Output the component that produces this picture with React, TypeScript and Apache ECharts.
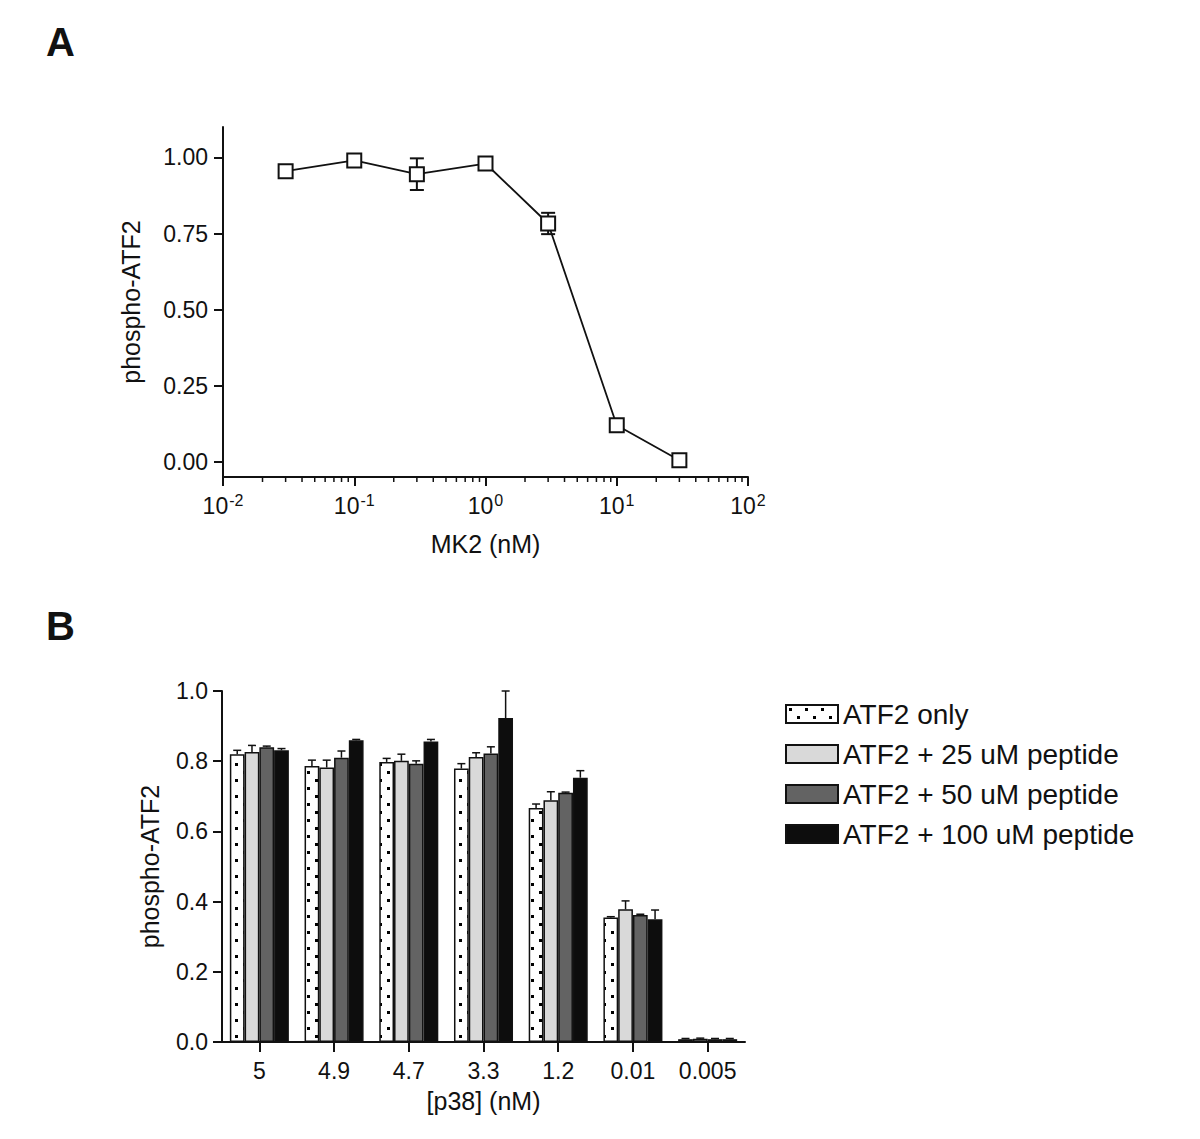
import React, { useEffect, useRef } from 'react';
import * as echarts from 'echarts';

const FONT = '"Liberation Sans", Arial, Helvetica, sans-serif';
const INK = '#111111';

// ---------- Panel A data ----------
const mk2Conc = [0.03, 0.1, 0.3, 1, 3, 10, 30];
const mk2Mean = [0.955, 0.99, 0.945, 0.98, 0.783, 0.12, 0.005];
const mk2Low = [0.935, 0.984, 0.893, 0.974, 0.748, 0.114, 0.0];
const mk2High = [0.962, 0.996, 0.997, 0.986, 0.818, 0.126, 0.01];
const yTicksA = [0, 0.25, 0.5, 0.75, 1];
const logMinorTicks = [
  0.02, 0.03, 0.04, 0.05, 0.06, 0.07, 0.08, 0.09,
  0.2, 0.3, 0.4, 0.5, 0.6, 0.7, 0.8, 0.9,
  2, 3, 4, 5, 6, 7, 8, 9,
  20, 30, 40, 50, 60, 70, 80, 90,
];
const yMinA = -0.05;
const yMaxA = 1.1;

// ---------- Panel B data ----------
const p38Categories = ['5', '4.9', '4.7', '3.3', '1.2', '0.01', '0.005'];
const seriesNames = [
  'ATF2 only',
  'ATF2 + 25 uM peptide',
  'ATF2 + 50 uM peptide',
  'ATF2 + 100 uM peptide',
];
const atf2Only = [0.82, 0.786, 0.798, 0.779, 0.667, 0.355, 0.008];
const atf2OnlyHigh = [0.831, 0.803, 0.808, 0.793, 0.678, 0.357, 0.01];
const pep25 = [0.826, 0.782, 0.801, 0.812, 0.689, 0.378, 0.009];
const pep25High = [0.845, 0.803, 0.82, 0.824, 0.713, 0.402, 0.011];
const pep50 = [0.84, 0.81, 0.793, 0.822, 0.71, 0.362, 0.008];
const pep50High = [0.843, 0.829, 0.801, 0.841, 0.712, 0.364, 0.01];
const pep100 = [0.831, 0.86, 0.856, 0.923, 0.753, 0.35, 0.008];
const pep100High = [0.836, 0.862, 0.862, 1.0, 0.773, 0.376, 0.01];

const barMeans = [atf2Only, pep25, pep50, pep100];
const barHighs = [atf2OnlyHigh, pep25High, pep50High, pep100High];
const barColors = ['dots', '#d9d9d9', '#636363', '#0d0d0d'];
const CAT_GAP = 0.21;

function makeDotPattern(): HTMLCanvasElement {
  const c = document.createElement('canvas');
  c.width = 16;
  c.height = 16;
  const ctx = c.getContext('2d')!;
  ctx.fillStyle = '#ffffff';
  ctx.fillRect(0, 0, 16, 16);
  ctx.fillStyle = '#000000';
  ctx.fillRect(3, 3, 3, 3);
  ctx.fillRect(11, 11, 3, 3);
  return c;
}

export default function App() {
  const ref = useRef<HTMLDivElement>(null);

  useEffect(() => {
    if (!ref.current) return;
    const chart = echarts.init(ref.current, undefined, { renderer: 'svg' });
    const pattern = makeDotPattern();

    const axisLine = { show: true, onZero: false, lineStyle: { color: INK, width: 2 } };
    const tickStyle = { color: INK, width: 2 };
    const labelBase = { color: INK, fontFamily: FONT, fontSize: 23 };
    const nameStyle = { color: INK, fontFamily: FONT, fontSize: 25 };

    const errA = mk2Conc.map((x, i) => [x, mk2Low[i], mk2High[i]]);
    const errB: number[][] = [];
    barMeans.forEach((arr, s) => {
      arr.forEach((v, c) => errB.push([c, v, barHighs[s][c], s]));
    });

    const option: any = {
      animation: false,
      backgroundColor: '#ffffff',
      textStyle: { fontFamily: FONT, color: INK },
      graphic: [
        {
          type: 'text',
          x: 46,
          y: 42,
          style: { text: 'A', font: `bold 40px ${FONT}`, fill: INK, align: 'left', verticalAlign: 'middle' },
        },
        {
          type: 'text',
          x: 46,
          y: 626,
          style: { text: 'B', font: `bold 40px ${FONT}`, fill: INK, align: 'left', verticalAlign: 'middle' },
        },
      ],
      grid: [
        { left: 223, top: 127, width: 525, height: 350, containLabel: false },
        { left: 222, top: 691, width: 523, height: 351, containLabel: false },
      ],
      legend: {
        data: seriesNames,
        orient: 'vertical',
        left: 785,
        top: 700,
        padding: 0,
        itemWidth: 52,
        itemHeight: 18,
        itemGap: 12,
        icon: 'rect',
        selectedMode: false,
        textStyle: { color: INK, fontFamily: FONT, fontSize: 28 },
      },
      xAxis: [
        {
          gridIndex: 0,
          type: 'log',
          logBase: 10,
          min: 0.01,
          max: 100,
          axisLine,
          axisTick: { show: true, length: 9, lineStyle: tickStyle },
          minorTick: { show: false },
          splitLine: { show: false },
          axisLabel: {
            margin: 17,
            showMinLabel: true,
            showMaxLabel: true,
            formatter: (v: number) => `{b|10}{s|${Math.round(Math.log10(v))}}`,
            rich: {
              b: { fontSize: 23, lineHeight: 23, verticalAlign: 'bottom', fontFamily: FONT, color: INK },
              s: {
                fontSize: 16,
                lineHeight: 16,
                padding: [0, 0, 9, 1],
                verticalAlign: 'bottom',
                fontFamily: FONT,
                color: INK,
              },
            },
          },
          name: 'MK2 (nM)',
          nameLocation: 'middle',
          nameGap: 54,
          nameTextStyle: nameStyle,
        },
        {
          gridIndex: 1,
          type: 'category',
          data: p38Categories,
          axisLine,
          axisTick: { show: true, alignWithLabel: true, length: 10, lineStyle: tickStyle },
          axisLabel: { ...labelBase, margin: 17, interval: 0 },
          splitLine: { show: false },
          name: '[p38] (nM)',
          nameLocation: 'middle',
          nameGap: 46,
          nameTextStyle: nameStyle,
        },
      ],
      yAxis: [
        {
          gridIndex: 0,
          type: 'value',
          min: yMinA,
          max: yMaxA,
          axisLine,
          axisTick: { show: true, length: 9, lineStyle: tickStyle, customValues: yTicksA },
          axisLabel: {
            ...labelBase,
            margin: 15,
            customValues: yTicksA,
            formatter: (v: number) => v.toFixed(2),
          },
          splitLine: { show: false },
          name: 'phospho-ATF2',
          nameLocation: 'middle',
          nameGap: 80,
          nameTextStyle: nameStyle,
        },
        {
          gridIndex: 1,
          type: 'value',
          min: 0,
          max: 1,
          interval: 0.2,
          axisLine,
          axisTick: { show: true, length: 9, lineStyle: tickStyle },
          axisLabel: { ...labelBase, margin: 14, formatter: (v: number) => v.toFixed(1) },
          splitLine: { show: false },
          name: 'phospho-ATF2',
          nameLocation: 'middle',
          nameGap: 60,
          nameTextStyle: nameStyle,
        },
      ],
      series: [
        // Panel A minor ticks on log axis
        {
          type: 'custom',
          xAxisIndex: 0,
          yAxisIndex: 0,
          clip: false,
          silent: true,
          z: 1,
          data: logMinorTicks.map((v) => [v, yMinA]),
          encode: { x: 0, y: 1 },
          renderItem: (_p: any, api: any) => {
            const pt = api.coord([api.value(0), api.value(1)]);
            return {
              type: 'line',
              shape: { x1: pt[0], y1: pt[1], x2: pt[0], y2: pt[1] + 5 },
              style: { stroke: INK, lineWidth: 1.5 },
            };
          },
        },
        // Panel A error bars
        {
          type: 'custom',
          xAxisIndex: 0,
          yAxisIndex: 0,
          clip: false,
          silent: true,
          z: 1,
          data: errA,
          encode: { x: 0, y: [1, 2] },
          renderItem: (_p: any, api: any) => {
            const lo = api.coord([api.value(0), api.value(1)]);
            const hi = api.coord([api.value(0), api.value(2)]);
            const st = { stroke: INK, lineWidth: 2 };
            return {
              type: 'group',
              children: [
                { type: 'line', shape: { x1: lo[0], y1: lo[1], x2: hi[0], y2: hi[1] }, style: st },
                { type: 'line', shape: { x1: lo[0] - 7, y1: lo[1], x2: lo[0] + 7, y2: lo[1] }, style: st },
                { type: 'line', shape: { x1: hi[0] - 7, y1: hi[1], x2: hi[0] + 7, y2: hi[1] }, style: st },
              ],
            };
          },
        },
        // Panel A line
        {
          type: 'line',
          name: 'MK2',
          xAxisIndex: 0,
          yAxisIndex: 0,
          z: 3,
          data: mk2Conc.map((x, i) => [x, mk2Mean[i]]),
          symbol: 'rect',
          symbolSize: 14,
          showAllSymbol: true,
          lineStyle: { color: INK, width: 1.8 },
          itemStyle: { color: '#ffffff', borderColor: INK, borderWidth: 2 },
        },
        // Panel B bars
        ...seriesNames.map((name, s) => ({
          type: 'bar',
          name,
          xAxisIndex: 1,
          yAxisIndex: 1,
          data: barMeans[s],
          barGap: '0%',
          barCategoryGap: `${CAT_GAP * 100}%`,
          itemStyle: {
            color: barColors[s] === 'dots' ? { image: pattern, repeat: 'repeat' } : barColors[s],
            borderColor: INK,
            borderWidth: 1.5,
          },
        })),
        // Panel B error bars (upper only)
        {
          type: 'custom',
          xAxisIndex: 1,
          yAxisIndex: 1,
          clip: false,
          silent: true,
          z: 4,
          data: errB,
          encode: { x: 0, y: [1, 2] },
          renderItem: (_p: any, api: any) => {
            const c = api.value(0);
            const s = api.value(3);
            const base = api.coord([c, api.value(1)]);
            const top = api.coord([c, api.value(2)]);
            const band = api.size([1, 0])[0];
            const bw = (band * (1 - CAT_GAP)) / 4;
            const x = base[0] + (s - 1.5) * bw;
            const st = { stroke: INK, lineWidth: 1.5 };
            return {
              type: 'group',
              children: [
                { type: 'line', shape: { x1: x, y1: base[1], x2: x, y2: top[1] }, style: st },
                { type: 'line', shape: { x1: x - 4, y1: top[1], x2: x + 4, y2: top[1] }, style: st },
              ],
            };
          },
        },
      ],
    };

    chart.setOption(option);
    return () => chart.dispose();
  }, []);

  return (
    <div
      ref={ref}
      style={{ position: 'absolute', left: 0, top: 0, width: 1200, height: 1139, background: '#ffffff' }}
    />
  );
}
